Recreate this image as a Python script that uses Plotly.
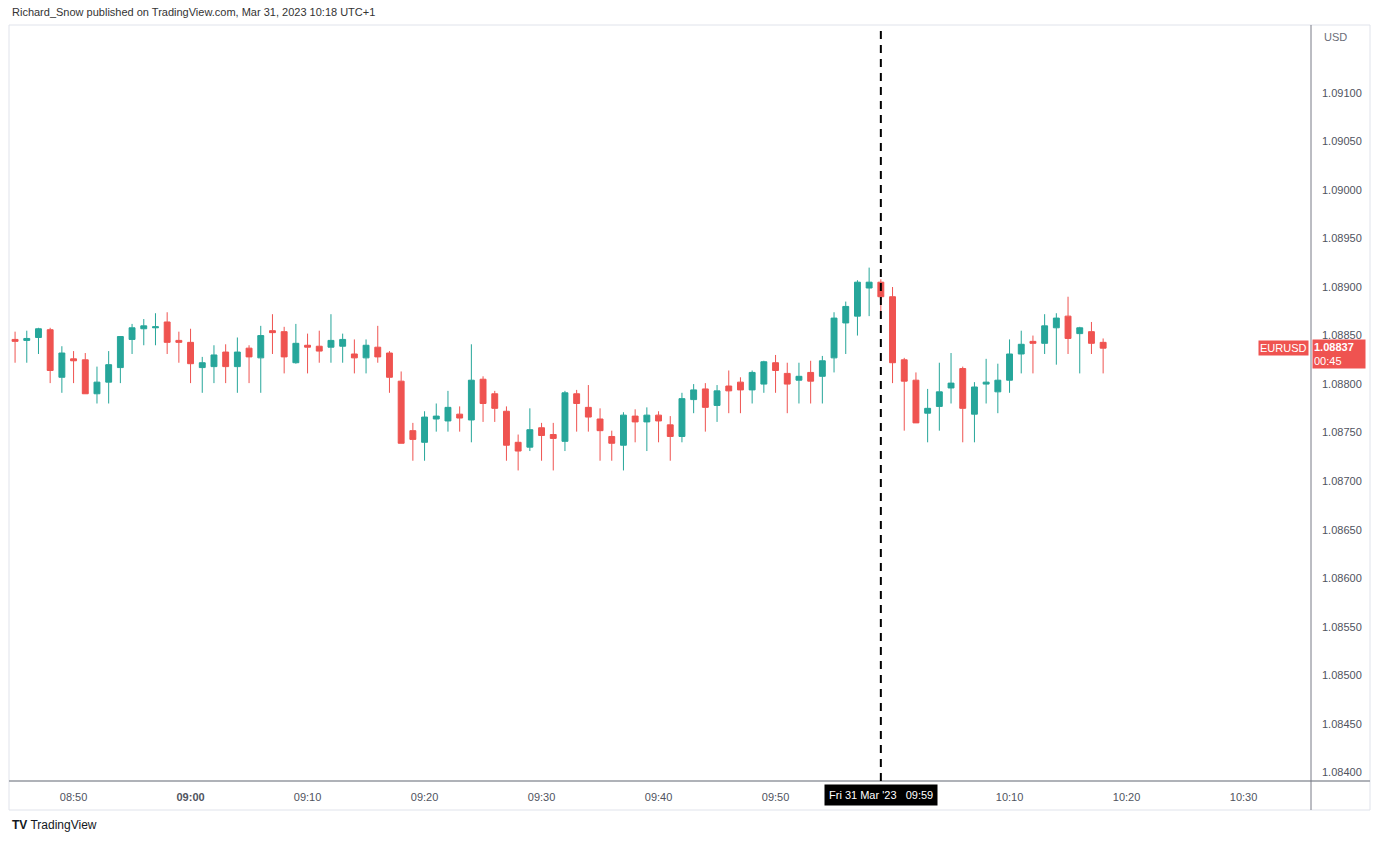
import plotly.graph_objects as go
import pandas as pd

# ---- data (EURUSD 1-minute, 31 Mar 2023, 08:45 .. 10:18) ----
start_time = "2023-03-31 08:45"
open_ = [
    1.08846, 1.08845, 1.08848, 1.08856, 1.08807, 1.08826, 1.08825, 1.08790, 1.08802, 1.08817,
    1.08846, 1.08857, 1.08858, 1.08864, 1.08845, 1.08843, 1.08817, 1.08818, 1.08833, 1.08818,
    1.08837, 1.08827, 1.08855, 1.08854, 1.08822, 1.08840, 1.08839, 1.08838, 1.08839, 1.08831,
    1.08827, 1.08838, 1.08832, 1.08803, 1.08752, 1.08740, 1.08764, 1.08762, 1.08769, 1.08763,
    1.08805, 1.08790, 1.08772, 1.08740, 1.08735, 1.08755, 1.08748, 1.08741, 1.08790, 1.08776,
    1.08764, 1.08746, 1.08737, 1.08767, 1.08761, 1.08768, 1.08758, 1.08746, 1.08784, 1.08795,
    1.08778, 1.08798, 1.08802, 1.08794, 1.08800, 1.08822, 1.08811, 1.08804, 1.08812, 1.08808,
    1.08827, 1.08863, 1.08870, 1.08899, 1.08905, 1.08890, 1.08825, 1.08804, 1.08770, 1.08777,
    1.08796, 1.08816, 1.08769, 1.08800, 1.08792, 1.08804, 1.08831, 1.08844, 1.08842, 1.08858,
    1.08870, 1.08852, 1.08854, 1.08843,
]
high = [
    1.08854, 1.08855, 1.08858, 1.08858, 1.08839, 1.08834, 1.08832, 1.08818, 1.08834, 1.08849,
    1.08862, 1.08867, 1.08873, 1.08874, 1.08854, 1.08857, 1.08828, 1.08840, 1.08841, 1.08848,
    1.08840, 1.08860, 1.08872, 1.08859, 1.08862, 1.08852, 1.08855, 1.08872, 1.08852, 1.08846,
    1.08846, 1.08860, 1.08834, 1.08813, 1.08760, 1.08772, 1.08780, 1.08793, 1.08777, 1.08841,
    1.08808, 1.08793, 1.08777, 1.08748, 1.08775, 1.08760, 1.08760, 1.08793, 1.08794, 1.08799,
    1.08775, 1.08752, 1.08771, 1.08774, 1.08776, 1.08772, 1.08767, 1.08791, 1.08800, 1.08801,
    1.08799, 1.08814, 1.08807, 1.08814, 1.08824, 1.08830, 1.08822, 1.08822, 1.08824, 1.08829,
    1.08874, 1.08885, 1.08907, 1.08920, 1.08908, 1.08900, 1.08827, 1.08812, 1.08795, 1.08822,
    1.08832, 1.08818, 1.08802, 1.08826, 1.08821, 1.08846, 1.08855, 1.08850, 1.08872, 1.08873,
    1.08890, 1.08859, 1.08864, 1.08847,
]
low = [
    1.08822, 1.08822, 1.08831, 1.08801, 1.08791, 1.08801, 1.08790, 1.08780, 1.08780, 1.08801,
    1.08831, 1.08840, 1.08840, 1.08831, 1.08822, 1.08801, 1.08791, 1.08801, 1.08801, 1.08791,
    1.08801, 1.08791, 1.08831, 1.08811, 1.08821, 1.08811, 1.08822, 1.08822, 1.08822, 1.08811,
    1.08811, 1.08822, 1.08791, 1.08739, 1.08721, 1.08721, 1.08751, 1.08751, 1.08751, 1.08740,
    1.08761, 1.08761, 1.08721, 1.08711, 1.08731, 1.08721, 1.08711, 1.08731, 1.08751, 1.08751,
    1.08721, 1.08721, 1.08711, 1.08740, 1.08731, 1.08740, 1.08721, 1.08740, 1.08770, 1.08751,
    1.08761, 1.08770, 1.08770, 1.08780, 1.08791, 1.08791, 1.08770, 1.08780, 1.08780, 1.08780,
    1.08812, 1.08831, 1.08850, 1.08870, 1.08875, 1.08801, 1.08752, 1.08760, 1.08740, 1.08752,
    1.08780, 1.08740, 1.08740, 1.08780, 1.08770, 1.08791, 1.08811, 1.08811, 1.08831, 1.08820,
    1.08831, 1.08811, 1.08831, 1.08811,
]
close = [
    1.08844, 1.08847, 1.08857, 1.08814, 1.08832, 1.08824, 1.08790, 1.08802, 1.08820, 1.08849,
    1.08858, 1.08860, 1.08859, 1.08843, 1.08843, 1.08821, 1.08822, 1.08830, 1.08818, 1.08833,
    1.08828, 1.08850, 1.08853, 1.08828, 1.08842, 1.08838, 1.08834, 1.08845, 1.08846, 1.08827,
    1.08840, 1.08828, 1.08807, 1.08739, 1.08743, 1.08766, 1.08767, 1.08776, 1.08765, 1.08804,
    1.08780, 1.08775, 1.08737, 1.08731, 1.08753, 1.08747, 1.08744, 1.08791, 1.08780, 1.08766,
    1.08752, 1.08739, 1.08768, 1.08761, 1.08768, 1.08762, 1.08746, 1.08785, 1.08794, 1.08776,
    1.08793, 1.08793, 1.08794, 1.08812, 1.08823, 1.08814, 1.08800, 1.08808, 1.08803, 1.08824,
    1.08868, 1.08880, 1.08905, 1.08905, 1.08890, 1.08822, 1.08803, 1.08760, 1.08775, 1.08792,
    1.08801, 1.08775, 1.08797, 1.08802, 1.08804, 1.08831, 1.08841, 1.08842, 1.08860, 1.08868,
    1.08847, 1.08858, 1.08842, 1.08837,
]
times = pd.date_range(start_time, periods=len(open_), freq="1min")

x_tick_vals = ["2023-03-31 08:50", "2023-03-31 09:00", "2023-03-31 09:10", "2023-03-31 09:20",
               "2023-03-31 09:30", "2023-03-31 09:40", "2023-03-31 09:50", "2023-03-31 10:10",
               "2023-03-31 10:20", "2023-03-31 10:30"]
x_tick_text = ["08:50", "<b>09:00</b>", "09:10", "09:20", "09:30", "09:40", "09:50",
               "10:10", "10:20", "10:30"]
y_tick_vals = [1.08400, 1.08450, 1.08500, 1.08550, 1.08600, 1.08650, 1.08700, 1.08750,
               1.08800, 1.08850, 1.08900, 1.08950, 1.09000, 1.09050, 1.09100]
y_tick_text = ["%.5f" % v for v in y_tick_vals]
crosshair_time = "2023-03-31 09:59"
crosshair_label = "Fri 31 Mar '23   09:59"
last_price = close[-1]
last_label = "1.08837"
countdown = "00:45"
symbol = "EURUSD"
header = "Richard_Snow published on TradingView.com, Mar 31, 2023 10:18 UTC+1"

GREEN = "#26a69a"
RED = "#ef5350"
FONT = "Liberation Sans, Arial, sans-serif"

fig = go.Figure()
fig.add_trace(go.Candlestick(
    x=times, open=open_, high=high, low=low, close=close,
    increasing=dict(line=dict(color=GREEN, width=1), fillcolor=GREEN),
    decreasing=dict(line=dict(color=RED, width=1), fillcolor=RED),
    whiskerwidth=0, showlegend=False, hoverinfo="skip",
))

W, H = 1381, 841
ML, MR, MT, MB = 10, 70, 25, 60
PW = W - ML - MR
PH = H - MT - MB


def px_x(p):
    return (p - ML) / PW


def px_y(p):
    return (H - MB - p) / PH


shapes = [
    dict(type="rect", xref="paper", yref="paper", x0=px_x(9), x1=px_x(1370),
         y0=px_y(810), y1=px_y(25), line=dict(color="#e0e3eb", width=1), layer="below"),
    dict(type="line", xref="paper", yref="paper", x0=px_x(9), x1=px_x(1370),
         y0=0, y1=0, line=dict(color="#9598a1", width=1.5)),
    dict(type="line", xref="paper", yref="paper", x0=1, x1=1,
         y0=px_y(810), y1=1, line=dict(color="#787b86", width=1)),
    dict(type="line", xref="x", yref="paper", x0=crosshair_time, x1=crosshair_time,
         y0=0, y1=1, line=dict(color="#000000", width=2, dash="8px,6px"), layer="above"),
]

annotations = [
    dict(text=header, xref="paper", yref="paper", x=0, y=px_y(12), xanchor="left",
         yanchor="middle", showarrow=False, font=dict(family=FONT, size=11, color="#333333")),
    dict(text="<b>TV</b> TradingView", xref="paper", yref="paper", x=0, y=px_y(825),
         xanchor="left", yanchor="middle", showarrow=False,
         font=dict(family=FONT, size=12, color="#131722")),
    dict(text="USD", xref="paper", yref="paper", x=px_x(1322), y=px_y(37), xanchor="left",
         yanchor="middle", showarrow=False, font=dict(family=FONT, size=11, color="#6a6d78")),
    dict(text=crosshair_label, xref="x", yref="paper", x=crosshair_time, y=px_y(795),
         xanchor="center", yanchor="middle", showarrow=False, bgcolor="#000000",
         borderpad=4, font=dict(family=FONT, size=11, color="#ffffff")),
    dict(text=symbol, xref="paper", yref="y", x=px_x(1309), y=last_price, xanchor="right",
         yanchor="middle", showarrow=False, bgcolor=RED, borderpad=1,
         font=dict(family=FONT, size=11, color="#ffffff")),
    dict(text="<b>" + last_label + "</b><br>" + countdown, xref="paper", yref="y",
         x=px_x(1312), y=last_price, xanchor="left", yanchor="top", yshift=9,
         showarrow=False, bgcolor=RED, width=50, height=26, align="left",
         font=dict(family=FONT, size=11, color="#ffffff")),
]

fig.update_layout(
    width=W, height=H,
    margin=dict(l=ML, r=MR, t=MT, b=MB),
    paper_bgcolor="#ffffff", plot_bgcolor="#ffffff",
    font=dict(family=FONT, size=11, color="#50535e"),
    boxgap=0.28,
    shapes=shapes, annotations=annotations,
    xaxis=dict(
        type="date",
        range=["2023-03-31 08:44:34", "2023-03-31 10:35:46"],
        rangeslider=dict(visible=False),
        tickmode="array", tickvals=x_tick_vals, ticktext=x_tick_text,
        showgrid=False, zeroline=False, showline=False, ticks="",
        ticklabelstandoff=8,
        tickfont=dict(family=FONT, size=11, color="#50535e"),
    ),
    yaxis=dict(
        side="right",
        range=[1.08391, 1.09170],
        tickmode="array", tickvals=y_tick_vals, ticktext=y_tick_text,
        showgrid=False, zeroline=False, showline=False, ticks="",
        ticklabelstandoff=10,
        tickfont=dict(family=FONT, size=11, color="#50535e"),
    ),
)

fig.write_html("out.html", config={"displayModeBar": False},
               post_script="document.body.style.margin='0';")
